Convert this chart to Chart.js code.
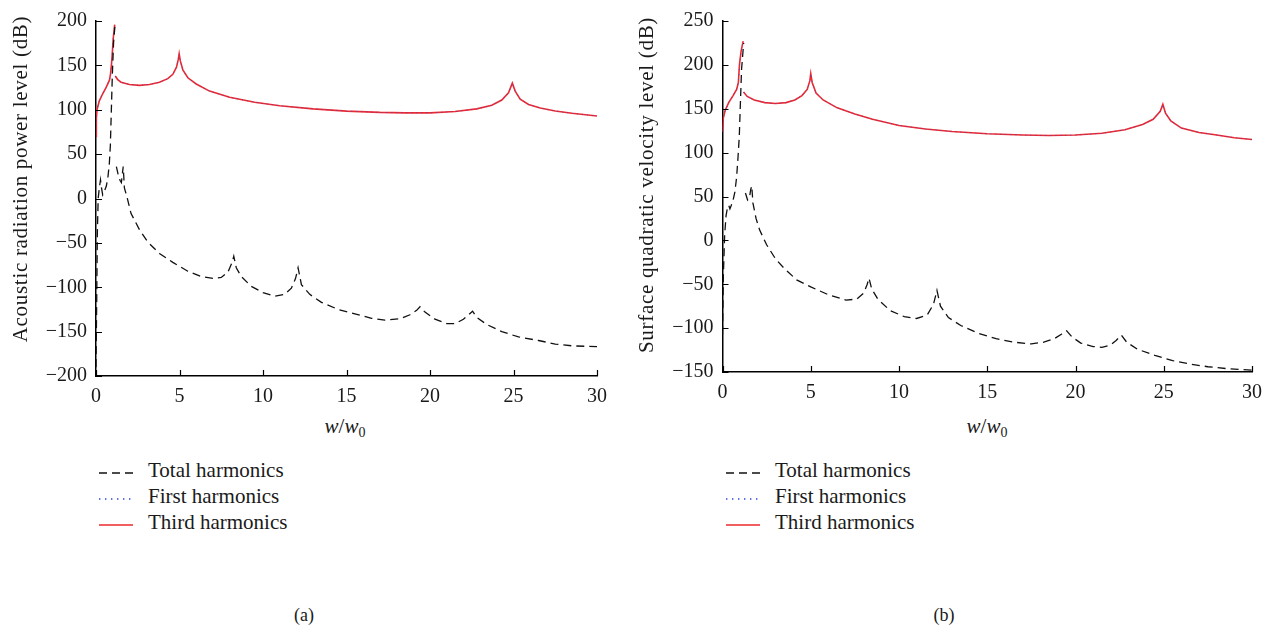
<!DOCTYPE html>
<html>
<head>
<meta charset="utf-8">
<script src="https://cdn.jsdelivr.net/npm/chart.js@4.4.1/dist/chart.umd.min.js"></script>
<style>
  body { margin: 0; background: #fff; }
  #wrap { position: relative; width: 1271px; height: 633px; overflow: hidden; font-family: "Liberation Serif", serif; color: #1a1a1a; }
  canvas { position: absolute; top: 0; }
  .ytitle { position: absolute; width: 420px; text-align: center; font-size: 21px; line-height: 24px; letter-spacing: 0.7px; transform: rotate(-90deg); white-space: nowrap; }
  .xtitle { position: absolute; width: 200px; text-align: center; font-size: 21px; line-height: 24px; }
  .xtitle sub { font-size: 14px; font-style: normal; vertical-align: -4px; }
  .leg { position: absolute; font-size: 21px; line-height: 24px; white-space: nowrap; }
  .legsw { position: absolute; }
  .cap { position: absolute; width: 60px; text-align: center; font-size: 18px; line-height: 20px; }
</style>
</head>
<body>
<div id="wrap">
  <canvas id="chartA" width="630" height="410" style="left:0;width:630px;height:410px"></canvas>
  <canvas id="chartB" width="644" height="410" style="left:627px;width:644px;height:410px"></canvas>

  <div class="ytitle" style="left:-190px;top:167px">Acoustic radiation power level (dB)</div>
  <div class="ytitle" style="left:436px;top:173px">Surface quadratic velocity level (dB)</div>

  <div class="xtitle" style="left:245px;top:414px"><i>w</i>/<i>w</i><sub>0</sub></div>
  <div class="xtitle" style="left:887px;top:414px"><i>w</i>/<i>w</i><sub>0</sub></div>

  <div id="legA"></div>
  <div id="legB"></div>

  <div class="cap" style="left:274px;top:605px">(a)</div>
  <div class="cap" style="left:914px;top:605px">(b)</div>
</div>

<script>
// legend names
var seriesNames = ['Total harmonics', 'First harmonics', 'Third harmonics'];

// x ticks shared by both panels
var xTicks = [0, 5, 10, 15, 20, 25, 30];

// panel (a): acoustic radiation power level
var aYTicks = [-200, -150, -100, -50, 0, 50, 100, 150, 200];
var aTotalX = [0, 0.04, 0.08, 0.13, 0.2, 0.27, 0.33, 0.4, 0.5, 0.62, 0.72, 0.8, 0.86, 0.92, 0.98, 1.05, 1.14, 1.18,
    1.22, 1.35, 1.45, 1.52, 1.58, 1.63, 1.7, 1.85, 2.1, 2.6, 3.1, 3.8, 4.6, 5.5, 6.3, 7.0, 7.5, 7.9, 8.15, 8.25, 8.4, 8.7,
    9.3, 10, 10.7, 11.3, 11.7, 11.95, 12.1, 12.3, 12.8, 13.5, 14.5, 15.5, 16.5, 17.3, 18.2, 18.8, 19.2, 19.4, 19.7,
    20.3, 21, 21.5, 22, 22.3, 22.55, 22.8, 23.4, 24.3, 25.3, 26.5, 27.5, 28.5, 30];
var aTotalY = [-190, -120, -40, 0, 12, 21, 12, 4, 8, 14, 25, 40, 60, 100, 140, 175, 196, null,
    36, 25, 20, 18, 28, 36, 12, 2, -17, -35, -49, -62, -72, -82, -88, -90, -89, -83, -72, -65, -78, -88,
    -99, -106, -110, -108, -101, -90, -78, -97, -108, -117, -125, -130, -135, -137, -135.5, -131, -126, -122, -128,
    -136, -141, -141, -136, -131, -127, -134, -142, -150, -156, -160, -164, -166, -167];
var aThirdX = [0, 0.02, 0.06, 0.2, 0.4, 0.6, 0.8, 0.87, 0.93, 0.97, 1.03, 1.12, 1.13,
    1.15, 1.3, 1.5, 2.0, 2.6, 3.2, 3.8, 4.3, 4.6, 4.82, 4.93, 4.98, 5.05, 5.2, 5.5, 6.0, 6.8, 8.0, 9.5, 11, 13, 15,
    17, 18.5, 20, 21.5, 22.8, 23.7, 24.3, 24.7, 24.93, 25.1, 25.4, 25.9, 26.6, 27.5, 28.5, 30];
var aThirdY = [70, 90, 100, 110, 118, 125, 133, 140, 152, 162, 180, 196, null,
    138, 134, 131, 128.5, 127.5, 128.5, 131, 135, 140, 148, 157, 163, 155, 145, 136, 129, 121, 114, 108.5, 104.5, 101, 98.5,
    97, 96.5, 96.5, 98, 101, 105, 111, 119, 130, 121, 112, 106, 102, 98.5, 96, 93];
var aFirstY = aThirdY; // the first-harmonic curve lies on the third-harmonic one

// panel (b): surface quadratic velocity level
var bYTicks = [-150, -100, -50, 0, 50, 100, 150, 200, 250];
var bTotalX = [0, 0.05, 0.12, 0.2, 0.27, 0.35, 0.42, 0.5, 0.6, 0.7, 0.8, 0.88, 0.95, 1.02, 1.08, 1.2, 1.25,
    1.3, 1.42, 1.52, 1.6, 1.66, 1.72, 1.9, 2.1, 2.5, 3.0, 3.5, 4.2, 5, 6, 7, 7.6, 8.0, 8.2, 8.3, 8.45, 8.8, 9.5, 10.3,
    11, 11.6, 11.95, 12.15, 12.35, 12.8, 13.5, 14.5, 15.5, 16.5, 17.5, 18.2, 18.8, 19.2, 19.5, 19.8, 20.3, 21, 21.5,
    22, 22.3, 22.6, 22.9, 23.5, 24.5, 25.5, 26.5, 27.5, 28.5, 30];
var bTotalY = [-107, -40, 5, 28, 36, 40, 36, 40, 46, 55, 72, 95, 118, 160, 195, 225, null,
    54, 46, 48, 58, 62, 43, 25, 12, -5, -21, -32, -45, -53, -62, -68, -67, -60, -50, -43, -55, -67, -80, -87,
    -89, -85, -73, -57, -75, -88, -97, -106, -112, -116, -118, -116, -112, -107, -103, -110, -117, -121, -122,
    -119, -114, -108, -116, -124, -131, -137, -141, -144, -146, -148];
var bThirdX = [0, 0.05, 0.15, 0.35, 0.6, 0.8, 0.9, 0.96, 1.05, 1.17, 1.18,
    1.19, 1.4, 1.8, 2.4, 3.0, 3.6, 4.1, 4.5, 4.8, 4.95, 5.0, 5.08, 5.3, 5.7, 6.5, 7.5, 8.5, 10, 11.5, 13, 15, 17,
    18.5, 20, 21.5, 22.8, 23.8, 24.4, 24.8, 24.95, 25.1, 25.4, 26, 27, 28, 29, 30];
var bThirdY = [124, 140, 148, 157, 165, 172, 180, 200, 215, 227, null,
    169, 164, 160, 157, 156, 157, 160, 165, 172, 182, 190, 180, 168, 160, 151, 144, 138, 131, 127, 124, 121.5, 120,
    119.5, 120, 122, 126, 132, 138, 147, 155, 145, 136, 128, 123, 120, 117, 115];
var bFirstY = bThirdY;

var FONT = 'Liberation Serif';
var INK = '#1a1a1a';
var RED = '#ec2a2f';
var BLUE = '#2e44dc';

function pts(xs, ys) {
    return xs.map(function (x, i) { return {x: x, y: ys[i]}; });
}

var innerTicks = {
    id: 'innerTicks',
    afterDraw: function (chart) {
        var ctx = chart.ctx;
        var area = chart.chartArea;
        var sx = chart.scales.x;
        var sy = chart.scales.y;
        ctx.save();
        ctx.strokeStyle = '#000';
        ctx.lineWidth = 1.2;
        ctx.beginPath();
        sx.ticks.forEach(function (t) {
            var px = Math.round(sx.getPixelForValue(t.value)) + 0.5;
            ctx.moveTo(px, area.bottom);
            ctx.lineTo(px, area.bottom - 6);
        });
        sy.ticks.forEach(function (t) {
            var py = Math.round(sy.getPixelForValue(t.value)) + 0.5;
            ctx.moveTo(area.left, py);
            ctx.lineTo(area.left + 6, py);
        });
        ctx.stroke();
        ctx.restore();
    }
};

function render(id, total, first, third, yTicks, box) {
    new Chart(document.getElementById(id), {
        type: 'line',
        data: {
            datasets: [{
                label: seriesNames[0],
                data: total,
                borderColor: '#111',
                borderWidth: 1.3,
                borderDash: [8, 5],
                pointRadius: 0,
                order: 0
            }, {
                label: seriesNames[1],
                data: first,
                borderColor: BLUE,
                borderWidth: 0.7,
                borderDash: [1, 4],
                pointRadius: 0,
                order: 1
            }, {
                label: seriesNames[2],
                data: third,
                borderColor: RED,
                borderWidth: 1.6,
                pointRadius: 0,
                order: 2
            }]
        },
        options: {
            responsive: false,
            animation: false,
            spanGaps: false,
            layout: {
                padding: {left: 0, top: box.top, right: box.right, bottom: 0}
            },
            plugins: {
                legend: {display: false},
                tooltip: {enabled: false}
            },
            scales: {
                x: {
                    type: 'linear',
                    min: xTicks[0],
                    max: xTicks[xTicks.length - 1],
                    afterBuildTicks: function (scale) {
                        scale.ticks = xTicks.map(function (v) { return {value: v}; });
                    },
                    afterFit: function (scale) { scale.height = box.xh; },
                    grid: {display: false, drawTicks: false},
                    border: {display: true, color: '#000', width: 1.5},
                    ticks: {color: INK, padding: 9, maxRotation: 0, font: {family: FONT, size: 20}}
                },
                y: {
                    type: 'linear',
                    min: yTicks[0],
                    max: yTicks[yTicks.length - 1],
                    afterBuildTicks: function (scale) {
                        scale.ticks = yTicks.map(function (v) { return {value: v}; });
                    },
                    afterFit: function (scale) { scale.width = box.yw; },
                    grid: {display: false, drawTicks: false},
                    border: {display: true, color: '#000', width: 1.5},
                    ticks: {
                        color: INK,
                        padding: 9,
                        font: {family: FONT, size: 20},
                        callback: function (v) { return v < 0 ? '\u2212' + Math.abs(v) : String(v); }
                    }
                }
            }
        },
        plugins: [innerTicks]
    });
}

render('chartA', pts(aTotalX, aTotalY), pts(aThirdX, aFirstY), pts(aThirdX, aThirdY), aYTicks,
    {top: 16, right: 33, xh: 34, yw: 96});
render('chartB', pts(bTotalX, bTotalY), pts(bThirdX, bFirstY), pts(bThirdX, bThirdY), bYTicks,
    {top: 15, right: 18.5, xh: 38, yw: 95.5});

// legends (html text, svg line samples)
var legStyles = [
    {stroke: '#111', width: 1.3, dash: '8 5'},
    {stroke: BLUE, width: 1.4, dash: '1.4 4.6'},
    {stroke: RED, width: 1.6, dash: ''}
];
var legRowsY = [473, 499, 525];
function buildLegend(id, x0) {
    var host = document.getElementById(id);
    seriesNames.forEach(function (name, i) {
        var s = legStyles[i];
        var svg = '<svg class="legsw" width="36" height="6" style="left:' + x0 + 'px;top:' + (legRowsY[i] - 3) + 'px">' +
            '<line x1="0" y1="3" x2="34" y2="3" stroke="' + s.stroke + '" stroke-width="' + s.width + '"' +
            (s.dash ? ' stroke-dasharray="' + s.dash + '"' : '') + '/></svg>';
        host.insertAdjacentHTML('beforeend', svg +
            '<div class="leg" style="left:' + (x0 + 49) + 'px;top:' + (legRowsY[i] - 15) + 'px">' + name + '</div>');
    });
}
buildLegend('legA', 99);
buildLegend('legB', 726);
</script>
</body>
</html>
